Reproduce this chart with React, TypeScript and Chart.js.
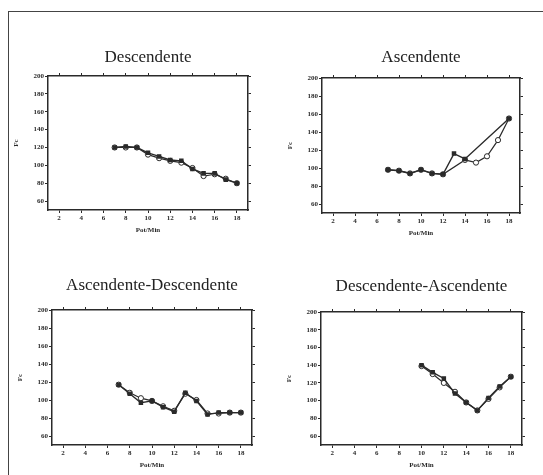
import React, { useEffect, useRef } from 'react';
import { Chart, registerables } from 'chart.js';
Chart.register(...registerables);

const xTickValues = [2, 4, 6, 8, 10, 12, 14, 16, 18];
const yTickValues = [60, 80, 100, 120, 140, 160, 180, 200];
const xTitle = 'Pot/Min';
const yTitle = 'Fc';

const descX = [7, 8, 9, 10, 11, 12, 13, 14, 15, 16, 17, 18];
const descA = [120, 121, 120, 114, 110, 106, 105, 96, 91, 91, 84, 80];
const descB = [120, 120, 120, 112, 108, 105, 103, 97, 88, 90, 85, 80];

const ascX = [7, 8, 9, 10, 11, 12, 13, 14, 15, 16, 17, 18];
const ascA = [98, 97, 94, 98, 94, 93, 116, 110, null, null, null, 155];
const ascB = [98, 97, 94, 98, 94, 93, null, 109, 106, 113, 131, 155];

const adX = [7, 8, 9, 10, 11, 12, 13, 14, 15, 16, 17, 18];
const adA = [117, 107, 97, 99, 92, 87, 108, 99, 84, 86, 86, 86];
const adB = [117, 108, 102, 99, 93, 88, 107, 100, 85, 85, 86, 86];

const daX = [10, 11, 12, 13, 14, 15, 16, 17, 18];
const daA = [140, 132, 125, 108, 98, 89, 103, 116, 127];
const daB = [139, 130, 120, 110, 98, 89, 102, 115, 127];

const INK = '#2a2a2a';
const SERIF = '"Liberation Serif", "DejaVu Serif", serif';

type Box = { plotLeft: number; plotTop: number; plotW: number; plotH: number; titleCenter: number };

const LEFT_W = 40;
const RIGHT_W = 15;
const BOTTOM_H = 24;
const TOP_H = 4;
const TITLE_H = 17;

function toPts(xs: number[], ys: (number | null)[]) {
  return xs.map((x, i) => ({ x, y: ys[i] }));
}

function MiniChart({ title, xs, a, b, box }: { title: string; xs: number[]; a: (number | null)[]; b: (number | null)[]; box: Box }) {
  const ref = useRef<HTMLCanvasElement | null>(null);
  const canvasTop = Math.round(box.titleCenter - TITLE_H / 2);
  const titlePad = box.plotTop - canvasTop - TITLE_H - TOP_H;
  const width = LEFT_W + box.plotW + RIGHT_W;
  const height = box.plotTop - canvasTop + box.plotH + BOTTOM_H;
  useEffect(() => {
    if (!ref.current) return;
    const border = { display: true, color: INK, width: 1.5 };
    const xTicksFn = (s: any) => { s.ticks = xTickValues.map((v) => ({ value: v })); };
    const yTicksFn = (s: any) => { s.ticks = yTickValues.map((v) => ({ value: v })); };
    const chart = new Chart(ref.current, {
      type: 'line',
      data: {
        datasets: [
          {
            data: toPts(xs, a) as any,
            borderColor: INK,
            backgroundColor: INK,
            borderWidth: 1.4,
            pointStyle: 'rect',
            pointRadius: 2.2,
            pointBackgroundColor: INK,
            pointBorderColor: INK,
            spanGaps: true,
            tension: 0,
          },
          {
            data: toPts(xs, b) as any,
            borderColor: INK,
            backgroundColor: '#fff',
            borderWidth: 1.2,
            pointStyle: 'circle',
            pointRadius: 2.6,
            pointBackgroundColor: '#fff',
            pointBorderColor: INK,
            pointBorderWidth: 1,
            spanGaps: true,
            tension: 0,
          },
        ],
      },
      options: {
        animation: false,
        responsive: false,
        devicePixelRatio: 1,
        layout: { padding: 0 },
        plugins: {
          legend: { display: false },
          tooltip: { enabled: false },
          title: {
            display: true,
            text: title,
            fullSize: false,
            color: '#222',
            font: { family: SERIF, size: 17, weight: 'normal', lineHeight: 1 },
            padding: { top: 0, bottom: titlePad },
          },
        },
        scales: {
          x: {
            type: 'linear',
            position: 'bottom',
            min: 1,
            max: 19,
            afterBuildTicks: xTicksFn,
            afterFit: (s: any) => { s.height = BOTTOM_H; },
            grid: { drawOnChartArea: false, color: INK, tickLength: 3 },
            border,
            ticks: { color: INK, font: { family: SERIF, size: 7, weight: 'bold' }, padding: 1, maxRotation: 0 },
            title: { display: true, text: xTitle, color: INK, font: { family: SERIF, size: 7, weight: 'bold' }, padding: 0 },
          },
          x2: {
            type: 'linear',
            position: 'top',
            min: 1,
            max: 19,
            afterBuildTicks: xTicksFn,
            afterFit: (s: any) => { s.height = TOP_H; },
            grid: { drawOnChartArea: false, color: INK, tickLength: 3 },
            border,
            ticks: { display: false },
          },
          y: {
            type: 'linear',
            position: 'left',
            min: 50,
            max: 200,
            afterBuildTicks: yTicksFn,
            afterFit: (s: any) => { s.width = LEFT_W; },
            grid: { drawOnChartArea: false, color: INK, tickLength: 3 },
            border,
            ticks: { color: INK, font: { family: SERIF, size: 7, weight: 'bold' }, padding: 1 },
            title: { display: true, text: yTitle, color: INK, font: { family: SERIF, size: 7, weight: 'bold' }, padding: 4 },
          },
          y2: {
            type: 'linear',
            position: 'right',
            min: 50,
            max: 200,
            afterBuildTicks: yTicksFn,
            afterFit: (s: any) => { s.width = RIGHT_W; },
            grid: { drawOnChartArea: false, color: INK, tickLength: 3 },
            border,
            ticks: { display: false },
          },
        },
      } as any,
    });
    return () => chart.destroy();
  }, []);
  return (
    <canvas
      ref={ref}
      width={width}
      height={height}
      style={{ position: 'absolute', left: box.plotLeft - LEFT_W, top: canvasTop, width, height }}
    />
  );
}

export default function App() {
  return (
    <div style={{ position: 'fixed', left: 0, top: 0, width: 543, height: 475, background: '#fff', overflow: 'hidden' }}>
      <div style={{ position: 'absolute', left: 8, top: 11, width: 560, height: 500, borderLeft: '1.5px solid #444', borderTop: '1.5px solid #444' }} />
      <MiniChart title="Descendente" xs={descX} a={descA} b={descB} box={{ plotLeft: 48, plotTop: 76, plotW: 200, plotH: 134, titleCenter: 57 }} />
      <MiniChart title="Ascendente" xs={ascX} a={ascA} b={ascB} box={{ plotLeft: 322, plotTop: 78, plotW: 198, plotH: 135, titleCenter: 57 }} />
      <MiniChart title="Ascendente-Descendente" xs={adX} a={adA} b={adB} box={{ plotLeft: 52, plotTop: 310, plotW: 200, plotH: 135, titleCenter: 285 }} />
      <MiniChart title="Descendente-Ascendente" xs={daX} a={daA} b={daB} box={{ plotLeft: 321, plotTop: 312, plotW: 201, plotH: 133, titleCenter: 286 }} />
    </div>
  );
}
